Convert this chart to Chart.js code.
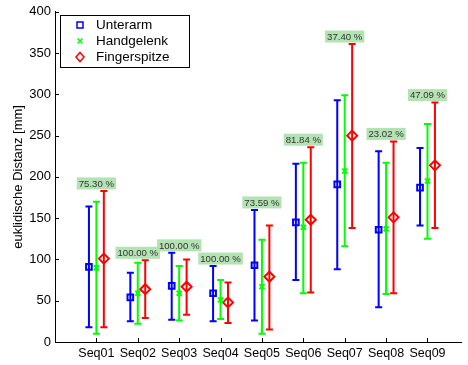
<!DOCTYPE html>
<html>
<head>
<meta charset="utf-8">
<script src="https://cdn.jsdelivr.net/npm/chart.js@4"></script>
<style>
  html, body { margin: 0; padding: 0; background: #fff; }
  #wrap { width: 468px; height: 365px; position: relative; }
</style>
</head>
<body>
<div id="wrap"><canvas id="c"></canvas></div>
<script>
// Sequences on the x axis and the share printed above each group
const categories = ['Seq01','Seq02','Seq03','Seq04','Seq05','Seq06','Seq07','Seq08','Seq09'];
const percentLabels = ['75.30 %','100.00 %','100.00 %','100.00 %','73.59 %','81.84 %','37.40 %','23.02 %','47.09 %'];

// Unterarm: mean, lower and upper end of the bar [mm]
const unterarmMean = [91, 54, 68, 59, 93, 145, 191, 136, 187];
const unterarmLow  = [18, 25, 27, 25, 26, 75, 88, 42, 141];
const unterarmHigh = [164, 84, 108, 92, 160, 216, 293, 231, 235];

// Handgelenk
const handgelenkMean = [90, 59, 59, 51, 67, 139, 207, 137, 195];
const handgelenkLow  = [10, 22, 26, 28, 10, 59, 116, 58, 125];
const handgelenkHigh = [170, 96, 92, 75, 124, 217, 299, 217, 264];

// Fingerspitze
const fingerMean = [101, 64, 67, 48, 79, 148, 250, 151, 214];
const fingerLow  = [18, 29, 33, 23, 15, 60, 138, 59, 138];
const fingerHigh = [183, 99, 100, 72, 141, 236, 361, 243, 290];

const yTicks = [0, 50, 100, 150, 200, 250, 300, 350, 400];

const FONT = '"Liberation Sans", Arial, Helvetica, sans-serif';
const SHIFT = 0.18;

function makeSet(label, color, style, mean, low, high, shift) {
  return {
    label,
    data: mean.map((v, i) => ({ x: i + 1 + shift, y: v })),
    low, high,
    pointStyle: style,
    pointRadius: style === 'rectRot' ? 5 : (style === 'rect' ? 4 : 3.5),
    pointHoverRadius: style === 'rectRot' ? 5 : 4,
    borderColor: color,
    backgroundColor: 'rgba(0,0,0,0)',
    pointBorderWidth: 2,
    showLine: false,
    barColor: color
  };
}

const datasets = [
  makeSet('Unterarm', '#0000ff', 'rect', unterarmMean, unterarmLow, unterarmHigh, -SHIFT),
  makeSet('Handgelenk', '#00ff00', 'crossRot', handgelenkMean, handgelenkLow, handgelenkHigh, 0),
  makeSet('Fingerspitze', '#ff0000', 'rectRot', fingerMean, fingerLow, fingerHigh, SHIFT)
];

// Vertical range bars with caps, drawn under the markers
const errorBars = {
  id: 'errorBars',
  beforeDatasetsDraw(chart) {
    const { ctx, scales: { x, y } } = chart;
    ctx.save();
    chart.data.datasets.forEach(ds => {
      ctx.strokeStyle = ds.barColor;
      ctx.lineWidth = 2;
      ds.data.forEach((p, i) => {
        const px = x.getPixelForValue(p.x);
        const top = y.getPixelForValue(ds.high[i]);
        const bot = y.getPixelForValue(ds.low[i]);
        ctx.beginPath();
        ctx.moveTo(px, top); ctx.lineTo(px, bot);
        ctx.moveTo(px - 3.5, top); ctx.lineTo(px + 3.5, top);
        ctx.moveTo(px - 3.5, bot); ctx.lineTo(px + 3.5, bot);
        ctx.stroke();
      });
    });
    ctx.restore();
  }
};

// Percentage tags above each group, inward tick marks and the legend box
const decorations = {
  id: 'decorations',
  afterDatasetsDraw(chart) {
    const { ctx, scales: { x, y } } = chart;
    ctx.save();
    ctx.font = '9.6px ' + FONT;
    ctx.textAlign = 'center';
    ctx.textBaseline = 'middle';
    categories.forEach((c, i) => {
      const top = Math.max(unterarmHigh[i], handgelenkHigh[i], fingerHigh[i]);
      const px = x.getPixelForValue(i + 1);
      const bottom = y.getPixelForValue(top) - 1.5;
      const w = ctx.measureText(percentLabels[i]).width + 4;
      const h = 12;
      ctx.fillStyle = '#b3e2b3';
      ctx.fillRect(px - w / 2, bottom - h, w, h);
      ctx.fillStyle = '#333333';
      ctx.fillText(percentLabels[i], px, bottom - h / 2 + 0.5);
    });
    ctx.restore();
  },
  afterDraw(chart) {
    const { ctx, scales: { x, y } } = chart;
    ctx.save();
    ctx.strokeStyle = '#000';
    ctx.lineWidth = 1;
    ctx.beginPath();
    yTicks.forEach(v => {
      const py = Math.round(y.getPixelForValue(v)) + 0.5;
      ctx.moveTo(x.left, py); ctx.lineTo(x.left + 4, py);
    });
    categories.forEach((c, i) => {
      const px = Math.round(x.getPixelForValue(i + 1)) + 0.5;
      ctx.moveTo(px, y.bottom); ctx.lineTo(px, y.bottom - 4);
    });
    ctx.stroke();

    // legend
    const lx = 60.5, ly = 15.5, lw = 129, lh = 52;
    ctx.fillStyle = '#fff';
    ctx.fillRect(lx, ly, lw, lh);
    ctx.strokeRect(lx, ly, lw, lh);
    ctx.font = '13.5px ' + FONT;
    ctx.textAlign = 'left';
    ctx.textBaseline = 'middle';
    chart.data.datasets.forEach((ds, k) => {
      const cy = 25 + k * 16;
      ctx.strokeStyle = ds.barColor;
      ctx.lineWidth = 1.5;
      const mx = 80;
      ctx.beginPath();
      if (ds.pointStyle === 'rect') {
        ctx.rect(mx - 3, cy - 3, 6, 6);
      } else if (ds.pointStyle === 'crossRot') {
        ctx.moveTo(mx - 2.5, cy - 2.5); ctx.lineTo(mx + 2.5, cy + 2.5);
        ctx.moveTo(mx + 2.5, cy - 2.5); ctx.lineTo(mx - 2.5, cy + 2.5);
      } else {
        ctx.moveTo(mx, cy - 4.5); ctx.lineTo(mx + 4, cy);
        ctx.lineTo(mx, cy + 4.5); ctx.lineTo(mx - 4, cy); ctx.closePath();
      }
      ctx.stroke();
      ctx.fillStyle = '#000';
      ctx.fillText(ds.label, 96, cy + 0.5);
    });
    ctx.restore();
  }
};

new Chart(document.getElementById('c'), {
  type: 'scatter',
  data: { datasets },
  options: {
    responsive: true,
    maintainAspectRatio: false,
    animation: false,
    layout: { padding: { top: 10, right: 0, left: 0, bottom: 0 } },
    plugins: { legend: { display: false }, tooltip: { enabled: false } },
    scales: {
      x: {
        type: 'linear',
        min: 0,
        max: 9.81,
        grid: { display: false, drawTicks: false },
        border: { display: true, color: '#000', width: 1 },
        afterBuildTicks: s => { s.ticks = categories.map((c, i) => ({ value: i + 1 })); },
        afterFit: s => { s.height = 23; },
        ticks: {
          autoSkip: false,
          maxRotation: 0,
          padding: 4,
          color: '#000',
          font: { family: FONT, size: 12.5 },
          callback: v => categories[v - 1]
        }
      },
      y: {
        min: 0,
        max: 400,
        grid: { display: false, drawTicks: false },
        border: { display: true, color: '#000', width: 1 },
        afterBuildTicks: s => { s.ticks = yTicks.map(v => ({ value: v })); },
        afterFit: s => { s.width = 55; },
        ticks: {
          padding: 4,
          color: '#000',
          font: { family: FONT, size: 13 }
        },
        title: {
          display: true,
          text: 'euklidische Distanz [mm]',
          color: '#000',
          font: { family: FONT, size: 13 },
          padding: { top: 11, bottom: 0 }
        }
      }
    }
  },
  plugins: [errorBars, decorations]
});
</script>
</body>
</html>
